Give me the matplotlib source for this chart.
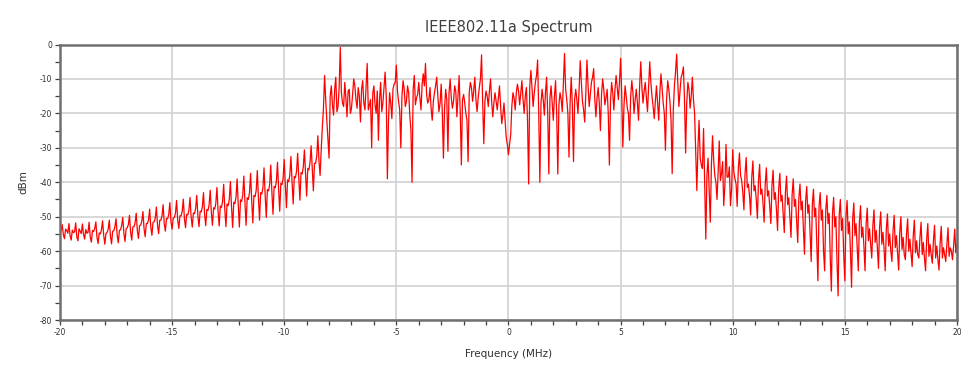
import numpy as np
import matplotlib
matplotlib.use("Agg")
import matplotlib.pyplot as plt
from matplotlib.ticker import MultipleLocator

plt.rcParams['axes.unicode_minus'] = False

# spectrum levels (dBm) at 0.1 MHz steps,
# plus the in-between samples (0.05 MHz offset) in the *_mid lists

# lower skirt, -20.0 .. -8.1 MHz
skirt_left = [
    -54.5, -52.3, -56.4, -54.0, -52.0, -56.8, -54.6, -51.8, -57.0, -54.2,
    -52.1, -56.5, -54.8, -51.6, -57.4, -54.3, -51.5, -57.8, -55.0, -51.2,
    -58.0, -54.6, -51.0, -57.9, -54.1, -50.6, -57.6, -53.8, -50.2, -57.2,
    -53.2, -49.6, -56.8, -52.9, -49.0, -56.3, -52.4, -48.5, -55.8, -52.0,
    -47.8, -55.4, -51.5, -47.2, -54.9, -51.0, -46.5, -54.2, -50.6, -45.9,
    -53.6, -50.2, -45.3, -53.4, -49.8, -44.9, -53.2, -49.5, -44.4, -53.0,
    -49.1, -43.8, -52.9, -48.6, -43.0, -52.6, -48.2, -42.3, -52.5, -47.8,
    -41.5, -52.7, -47.3, -40.6, -52.9, -46.8, -39.8, -53.1, -46.2, -39.0,
    -53.0, -45.6, -38.2, -52.5, -45.0, -37.4, -51.8, -44.2, -36.6, -51.0,
    -43.4, -35.8, -50.2, -42.5, -35.0, -49.3, -41.6, -34.2, -48.4, -40.7,
    -33.4, -47.4, -39.8, -32.5, -46.3, -38.7, -31.6, -45.2, -37.6, -30.6,
    -44.0, -36.4, -29.4, -42.5, -34.5, -26.5, -38.0, -24.0, -9.0, -22.0,
]
skirt_left_mid = [
    -54.0, -55.2, -53.6, -54.8, -55.5, -53.9, -54.4, -55.8, -53.5, -54.9,
    -55.1, -53.7, -54.6, -55.9, -54.0, -53.4, -56.0, -54.7, -53.8, -55.4,
    -54.9, -53.6, -55.7, -54.2, -52.9, -55.3, -54.0, -52.6, -54.8, -53.5,
    -52.3, -54.5, -53.0, -51.8, -54.0, -52.6, -51.3, -53.5, -52.0, -50.9,
    -53.0, -51.6, -50.4, -52.5, -51.0, -49.8, -52.0, -50.5, -49.4, -51.5,
    -50.4, -49.0, -51.0, -49.7, -48.5, -50.6, -49.3, -48.1, -50.2, -48.9,
    -47.6, -49.8, -48.4, -47.1, -49.3, -47.9, -46.6, -48.8, -47.4, -46.1,
    -48.3, -46.9, -45.6, -47.8, -46.3, -45.0, -47.2, -45.8, -44.4, -46.6,
    -45.1, -43.8, -46.0, -44.5, -43.1, -45.3, -43.8, -42.4, -44.5, -43.0,
    -41.6, -43.7, -42.1, -40.7, -42.8, -41.2, -39.8, -41.9, -40.3, -38.9,
    -40.9, -39.3, -37.9, -39.9, -38.3, -36.8, -38.8, -37.2, -35.6, -37.6,
    -36.0, -34.3, -36.1, -34.5, -32.5, -33.8, -30.5, -18.5, -16.0,
]

# occupied band, -8.0 .. 8.3 MHz
passband = [
    -33.0, -12.0, -20.5, -9.5, -18.0, -0.8, -17.0, -11.0, -21.0, -13.0,
    -18.5, -10.0, -16.0, -12.5, -22.5, -10.5, -19.0, -5.5, -17.5, -30.0,
    -12.0, -20.0, -27.8, -11.0, -17.0, -8.0, -39.0, -14.0, -21.5, -11.5,
    -6.0, -16.5, -30.0, -10.5, -18.0, -12.0, -20.5, -40.0, -9.0, -15.5,
    -11.0, -19.0, -8.5, -5.5, -17.0, -12.5, -22.0, -14.0, -9.5, -19.5,
    -11.5, -33.0, -13.0, -31.0, -10.0, -18.5, -12.0, -21.0, -9.0, -35.0,
    -14.5, -20.0, -34.0, -11.0, -16.5, -9.5, -19.5, -12.5, -3.0, -28.8,
    -13.5, -18.0, -10.0, -21.0, -14.0, -19.0, -12.0, -23.0, -17.0, -27.0,
    -32.0, -26.0, -14.0, -19.0, -11.5, -17.5, -10.5, -20.0, -12.5, -40.5,
    -7.5, -18.0, -11.0, -4.5, -40.0, -13.0, -20.5, -9.5, -37.6, -12.0,
    -22.0, -10.5, -37.6, -14.0, -19.5, -2.6, -16.0, -32.7, -9.5, -34.0,
    -13.0, -20.0, -4.7, -16.5, -22.5, -4.5, -18.0, -11.0, -7.0, -21.0,
    -12.5, -25.0, -10.0, -17.5, -13.0, -35.0, -11.0, -19.0, -9.0, -16.0,
    -4.0, -29.8, -12.0, -18.5, -27.8, -10.5, -20.0, -13.0, -22.0, -5.0,
    -17.0, -11.0, -19.5, -5.0, -15.0, -21.5, -12.0, -22.0, -8.5, -17.0,
    -30.7, -10.5, -16.5, -37.5, -12.0, -2.8, -18.0, -9.5, -6.5, -31.5,
    -11.0, -18.5, -9.5, -20.0,
]
passband_mid = [
    -15.0, -17.5, -13.0, -19.5, -12.5, -14.0, -18.0, -15.5, -13.5, -20.0,
    -14.5, -12.0, -18.5, -15.0, -13.0, -17.0, -12.0, -19.0, -16.0, -14.0,
    -17.5, -13.5, -16.0, -19.5, -12.5, -15.0, -22.0, -17.0, -13.0, -11.0,
    -13.5, -19.0, -15.0, -13.0, -16.5, -14.0, -25.0, -13.0, -17.5, -14.5,
    -15.5, -11.5, -12.0, -14.5, -16.0, -18.5, -16.5, -12.0, -15.0, -17.0,
    -20.0, -18.5, -16.0, -14.0, -15.5, -16.5, -13.5, -15.0, -20.0, -16.0,
    -17.0, -22.0, -14.0, -12.5, -13.5, -16.0, -15.5, -10.0, -17.0, -16.5,
    -15.0, -13.5, -16.5, -17.0, -16.5, -15.5, -18.0, -20.5, -22.0, -29.0,
    -29.0, -18.0, -15.5, -14.0, -13.5, -14.0, -16.0, -15.0, -22.0, -12.0,
    -13.0, -14.0, -9.0, -20.0, -17.0, -16.0, -14.0, -20.0, -15.5, -17.0,
    -15.0, -20.0, -17.5, -16.0, -11.0, -13.0, -20.0, -16.5, -18.0, -16.0,
    -16.0, -13.0, -11.0, -19.0, -14.0, -12.0, -14.5, -9.5, -16.0, -15.5,
    -17.0, -14.5, -13.0, -15.5, -20.0, -16.5, -14.0, -13.0, -12.5, -11.0,
    -14.0, -18.0, -15.0, -20.0, -15.0, -14.0, -16.0, -17.0, -12.0, -12.5,
    -13.5, -15.5, -12.0, -11.0, -18.0, -16.5, -17.0, -14.0, -12.5, -20.0,
    -16.0, -13.0, -22.0, -19.0, -8.0, -11.0, -13.5, -8.5, -16.0, -17.0,
    -13.0, -15.0, -16.0,
]

# upper skirt, 8.4 .. 20.0 MHz
skirt_right = [
    -42.4, -22.0, -35.0, -24.4, -56.5, -33.0, -51.6, -26.5, -38.0, -45.0,
    -28.0, -37.5, -46.8, -29.0, -38.5, -46.8,
    -30.5, -39.0, -47.0, -31.5, -39.5, -48.0, -32.8, -40.5, -49.5,
    -33.8, -41.0, -50.5, -34.8, -42.0, -51.6, -35.8, -42.5, -52.0,
    -36.5, -43.0, -54.0, -37.4, -43.8, -54.6, -38.2, -44.5, -56.0,
    -39.0, -45.0, -57.5, -40.5, -45.5, -60.9, -41.2, -46.5, -63.0,
    -42.0, -47.5, -68.6, -43.0, -48.0, -65.7, -43.8, -49.0, -71.6,
    -44.4, -50.0, -73.0, -45.0, -50.5, -68.6, -45.3, -51.5, -70.5,
    -46.0, -52.0, -65.7, -46.8, -53.0, -65.7, -47.5, -53.5, -62.0,
    -48.0, -54.0, -65.0, -48.6, -54.5, -65.7, -49.2, -55.0, -63.0,
    -49.6, -55.5, -65.5, -50.0, -56.0, -62.5, -50.6, -56.5, -64.5,
    -51.0, -57.0, -62.0, -51.6, -57.5, -65.7, -52.0, -58.0, -63.5,
    -52.5, -58.5, -65.5, -52.8, -59.0, -63.0, -53.2, -59.0, -62.5,
    -53.6, -58.0,
]
skirt_right_mid = [
    -30.0, -33.0, -36.0, -40.0, -38.0, -42.0, -35.0, -33.5, -40.0, -37.0,
    -39.5, -34.0, -41.0, -38.5, -35.5, -42.0, -37.0, -40.5, -36.0, -38.0,
    -43.0, -37.5, -41.5, -44.0, -38.5, -42.5, -45.0, -39.5, -43.5, -46.0,
    -40.5, -44.0, -47.0, -41.0, -45.0, -48.0, -42.0, -45.5, -49.0, -43.0,
    -46.5, -50.0, -43.5, -47.0, -51.5, -44.5, -48.0, -53.0, -45.5, -49.0,
    -55.0, -46.5, -50.0, -58.0, -47.0, -51.0, -60.0, -48.0, -52.0, -62.0,
    -49.0, -53.0, -63.0, -49.5, -54.0, -61.0, -50.0, -55.0, -60.0, -50.5,
    -55.5, -59.0, -51.5, -56.0, -58.5, -52.0, -57.0, -58.0, -52.5, -57.5,
    -59.0, -53.0, -58.0, -59.5, -53.5, -58.5, -60.0, -54.0, -59.0, -60.5,
    -54.5, -59.5, -61.0, -55.0, -60.0, -60.5, -55.5, -60.5, -61.0, -56.0,
    -61.0, -62.0, -56.5, -61.5, -61.0, -57.0, -62.0, -62.5, -57.5, -62.0,
    -61.0, -58.0, -61.5, -60.0, -58.5, -60.5,
]


def merge(f0, f1, main, mid):
    # put the half-step samples between the main ones
    n = min(len(main), len(mid) + 1)
    vals = np.empty(2 * n - 1)
    vals[0::2] = main[:n]
    vals[1::2] = mid[:n - 1]
    return np.linspace(f0, f1, len(vals)), vals


f1, v1 = merge(-20.0, -8.1, skirt_left, skirt_left_mid)
f2, v2 = merge(-8.0, 8.3, passband, passband_mid)
f3, v3 = merge(8.4, 20.0, skirt_right, skirt_right_mid)
freq = np.concatenate([f1, f2, f3])
level = np.concatenate([v1, v2, v3])

fig = plt.figure(figsize=(9.61, 3.68), dpi=100)
ax = fig.add_axes([0.0624, 0.1304, 0.9334, 0.7486])

ax.plot(freq, level, color='#ff0000', lw=0.9)

ax.set_xlim(-20, 20)
ax.set_ylim(-80, 0)
ax.xaxis.set_major_locator(MultipleLocator(5))
ax.xaxis.set_minor_locator(MultipleLocator(1))
ax.yaxis.set_major_locator(MultipleLocator(10))
ax.yaxis.set_minor_locator(MultipleLocator(5))
ax.grid(True, which='major', color='#d4d4d4', lw=1.3)
ax.set_axisbelow(True)

for s in ax.spines.values():
    s.set_color('#707070')
    s.set_linewidth(1.8)

ax.tick_params(which='both', direction='out', length=3.5, width=0.9,
               color='#404040', labelsize=5.5, labelcolor='#303030', pad=2)

ax.set_title('IEEE802.11a Spectrum', fontsize=10.5, color='#404040', pad=9)
ax.set_xlabel('Frequency (MHz)', fontsize=7.5, color='#303030', labelpad=9)
ax.set_ylabel('dBm', fontsize=7.5, color='#303030', labelpad=8)

fig.savefig('out.png', dpi=100, facecolor='white')
